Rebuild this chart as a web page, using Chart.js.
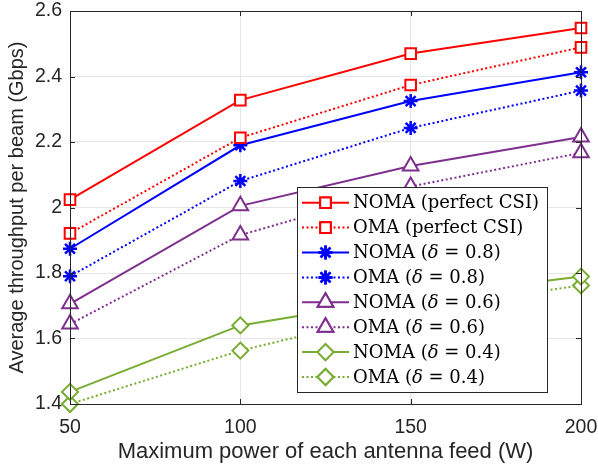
<!DOCTYPE html>
<html>
<head>
<meta charset="utf-8">
<script src="https://cdn.jsdelivr.net/npm/chart.js@4.4.1/dist/chart.umd.min.js"></script>
<style>
  html, body { margin: 0; padding: 0; background: #fff; }
  #wrap { width: 598px; height: 470px; }
</style>
</head>
<body>
<div id="wrap"><canvas id="tputChart" width="598" height="470"></canvas></div>
<script>
// x values (W) and throughput per beam (Gbps)
const power = [50, 100, 150, 200];
const nomaPerfect = [2.024, 2.328, 2.470, 2.548];
const omaPerfect  = [1.921, 2.213, 2.374, 2.489];
const noma08 = [1.874, 2.190, 2.325, 2.413];
const oma08  = [1.790, 2.081, 2.243, 2.357];
const noma06 = [1.706, 2.005, 2.127, 2.215];
const oma06  = [1.644, 1.916, 2.064, 2.167];
const noma04 = [1.437, 1.640, 1.725, 1.789];
const oma04  = [1.400, 1.563, 1.688, 1.762];

const yTicks = [1.4, 1.6, 1.8, 2, 2.2, 2.4, 2.6];
const xTicks = [50, 100, 150, 200];

const seriesLabels = [
    'NOMA (perfect CSI)', 'OMA (perfect CSI)',
    'NOMA (δ = 0.8)', 'OMA (δ = 0.8)',
    'NOMA (δ = 0.6)', 'OMA (δ = 0.6)',
    'NOMA (δ = 0.4)', 'OMA (δ = 0.4)'
];
const seriesValues = [nomaPerfect, omaPerfect, noma08, oma08, noma06, oma06, noma04, oma04];

const RED = '#ff0000', BLUE = '#0000ff', PURPLE = '#7e2f8e', GREEN = '#77ac30';
const colors = [RED, RED, BLUE, BLUE, PURPLE, PURPLE, GREEN, GREEN];
const markers = ['rect', 'rect', 'star', 'star', 'triangle', 'triangle', 'rectRot', 'rectRot'];
const markerSize = { rect: 7.5, star: 7, triangle: 9, rectRot: 8 };
const DOT = [2, 2.5];

const datasets = seriesLabels.map((label, i) => ({
    label: label,
    data: power.map((p, j) => ({ x: p, y: seriesValues[i][j] })),
    borderColor: colors[i],
    borderWidth: 2,
    borderDash: i % 2 ? DOT : [],
    pointStyle: markers[i],
    pointRadius: markerSize[markers[i]],
    pointBorderWidth: markers[i] === 'star' ? 2.5 : 2,
    pointBorderColor: colors[i],
    pointBackgroundColor: '#fff',
    tension: 0,
    clip: false
}));

const AXIS_COLOR = '#262626';

// box around plot + inward tick marks
const framePlugin = {
    id: 'frame',
    afterDraw(chart) {
        const { ctx, chartArea: a, scales } = chart;
        ctx.save();
        ctx.strokeStyle = AXIS_COLOR;
        ctx.lineWidth = 1;
        ctx.strokeRect(a.left + 0.5, a.top + 0.5, a.right - a.left, a.bottom - a.top);
        ctx.beginPath();
        xTicks.forEach(v => {
            const x = Math.round(scales.x.getPixelForValue(v)) + 0.5;
            ctx.moveTo(x, a.bottom); ctx.lineTo(x, a.bottom - 5);
            ctx.moveTo(x, a.top); ctx.lineTo(x, a.top + 5);
        });
        yTicks.forEach(v => {
            const y = Math.round(scales.y.getPixelForValue(v)) + 0.5;
            ctx.moveTo(a.left, y); ctx.lineTo(a.left + 5, y);
            ctx.moveTo(a.right, y); ctx.lineTo(a.right - 5, y);
        });
        ctx.stroke();
        ctx.restore();
    }
};

// legend drawn inside the axes, like the matlab figure
const insideLegend = {
    id: 'insideLegend',
    afterDraw(chart) {
        const ctx = chart.ctx;
        const box = { x: 297.5, y: 187.5, w: 250, h: 205 };
        const rowH = 24.9, firstRow = 202.7;
        ctx.save();
        ctx.fillStyle = '#fff';
        ctx.fillRect(box.x, box.y, box.w, box.h);
        ctx.strokeStyle = AXIS_COLOR;
        ctx.lineWidth = 1;
        ctx.strokeRect(box.x, box.y, box.w, box.h);

        chart.data.datasets.forEach((ds, i) => {
            const y = firstRow + i * rowH;
            ctx.strokeStyle = ds.borderColor;
            ctx.lineWidth = 2;
            ctx.setLineDash(ds.borderDash);
            ctx.beginPath();
            ctx.moveTo(302, y);
            ctx.lineTo(349, y);
            ctx.stroke();
            ctx.setLineDash([]);
            ctx.lineWidth = ds.pointBorderWidth;
            Chart.helpers.drawPoint(ctx, {
                pointStyle: ds.pointStyle,
                radius: ds.pointRadius,
                borderWidth: ds.pointBorderWidth,
                rotation: 0
            }, 325.5, y);
            ctx.fillStyle = '#fff';
            ctx.fill();
            ctx.stroke();

            // text, with the greek letter in italic
            ctx.fillStyle = '#000';
            ctx.textBaseline = 'middle';
            let tx = 353;
            ds.label.split(/(δ)/).forEach(part => {
                if (!part) return;
                ctx.font = (part === 'δ' ? 'italic ' : '') + '18px "DejaVu Serif"';
                ctx.fillText(part, tx, y + 1);
                tx += ctx.measureText(part).width;
            });
        });
        ctx.restore();
    }
};

const SANS = '"Liberation Sans", Arial, sans-serif';
const tickFont = { family: SANS, size: 19.5 };

new Chart(document.getElementById('tputChart').getContext('2d'), {
    type: 'line',
    data: { datasets: datasets },
    options: {
        responsive: false,
        animation: false,
        layout: { padding: { left: 0, right: 17, top: 8.5, bottom: 0 } },
        plugins: {
            legend: { display: false },
            tooltip: { enabled: false }
        },
        scales: {
            x: {
                type: 'linear',
                min: 50,
                max: 200,
                afterBuildTicks: scale => { scale.ticks = xTicks.map(v => ({ value: v })); },
                afterFit: scale => {
                    scale.height = 66;
                    scale.paddingLeft = 0;
                    scale.paddingRight = 0;
                },
                ticks: { color: AXIS_COLOR, font: tickFont, padding: 12, maxRotation: 0 },
                grid: { color: '#e6e6e6', drawTicks: false },
                border: { display: false },
                title: {
                    display: true,
                    text: 'Maximum power of each antenna feed (W)',
                    color: AXIS_COLOR,
                    font: { family: SANS, size: 22 },
                    padding: { top: 0, bottom: 5 }
                }
            },
            y: {
                min: 1.4,
                max: 2.6,
                afterBuildTicks: scale => { scale.ticks = yTicks.map(v => ({ value: v })); },
                afterFit: scale => {
                    scale.width = 70;
                    scale.paddingTop = 0;
                    scale.paddingBottom = 0;
                },
                ticks: {
                    color: AXIS_COLOR,
                    font: tickFont,
                    padding: 8,
                    callback: v => String(+v.toFixed(1))
                },
                grid: { color: '#e6e6e6', drawTicks: false },
                border: { display: false },
                title: {
                    display: true,
                    text: 'Average throughput per beam (Gbps)',
                    color: AXIS_COLOR,
                    font: { family: SANS, size: 20 },
                    padding: { top: 5, bottom: 0 }
                }
            }
        }
    },
    plugins: [framePlugin, insideLegend]
});
</script>
</body>
</html>
